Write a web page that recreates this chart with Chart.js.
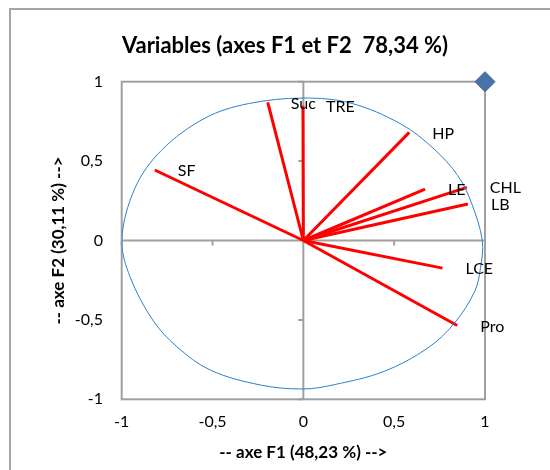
<!DOCTYPE html>
<html>
<head>
<meta charset="utf-8">
<script src="https://cdn.jsdelivr.net/npm/chart.js@4/dist/chart.umd.min.js"></script>
<style>
  html, body { margin: 0; padding: 0; background: #fff; }
  #wrap { width: 550px; height: 470px; position: relative; }
</style>
</head>
<body>
<div id="wrap"><canvas id="c" width="550" height="470"></canvas></div>
<script>
// ---- data ----
const chartTitle = 'Variables (axes F1 et F2  78,34 %)';
const xAxisTitle = '-- axe F1 (48,23 %) -->';
const yAxisTitle = '-- axe F2 (30,11 %) -->';
const varNames = ['SF', 'Suc', 'TRE', 'HP', 'LE', 'CHL', 'LB', 'LCE', 'Pro'];
const varF1 = [-0.818, -0.196, -0.002, 0.583, 0.670, 0.900, 0.906, 0.766, 0.847];
const varF2 = [0.444, 0.870, 0.849, 0.681, 0.323, 0.335, 0.230, -0.174, -0.535];
const xTickLabels = ['-1', '-0,5', '0', '0,5', '1'];
const yTickLabels = ['-1', '-0,5', '0', '0,5', '1'];
// correlation circle, points (counter-clockwise from the right).
// first and last points only overlap the loop so the curve closes smoothly; their segments are hidden.
const circleX = [0.975, 0.985, 0.924, 0.850, 0.720, 0.538, 0.261, 0.000, -0.302, -0.541, -0.781, -0.928, -1.000, -0.954, -0.829, -0.696, -0.512, -0.236, 0.000, 0.169, 0.445, 0.685, 0.832, 0.943, 0.975, 0.985, 0.924];
const circleY = [-0.174, 0.000, 0.241, 0.409, 0.576, 0.733, 0.865, 0.897, 0.862, 0.771, 0.568, 0.327, 0.000, -0.229, -0.501, -0.669, -0.816, -0.910, -0.935, -0.908, -0.824, -0.677, -0.520, -0.321, -0.174, 0.000, 0.241];
const markerX = [1];
const markerY = [1];

Chart.defaults.font.family = 'Lato, "Open Sans", sans-serif';
Chart.defaults.color = '#000';

const circleColor = '#2F80C6';
const datasets = [];
datasets.push({
  label: 'circle',
  data: circleX.map((v, i) => ({x: v, y: circleY[i]})),
  showLine: true,
  borderColor: circleColor,
  borderWidth: 1,
  pointRadius: 0,
  tension: 0.35,
  fill: false,
  segment: {
    borderColor: c => (c.p0DataIndex === 0 || c.p0DataIndex === circleX.length - 2) ? 'rgba(0,0,0,0)' : circleColor
  }
});
varNames.forEach((n, i) => {
  datasets.push({
    label: n,
    data: [{x: 0, y: 0}, {x: varF1[i], y: varF2[i]}],
    showLine: true,
    borderColor: '#FF0000',
    borderWidth: 3,
    pointRadius: 0,
    tension: 0
  });
});
datasets.push({
  label: 'marker',
  data: markerX.map((v, i) => ({x: v, y: markerY[i]})),
  pointStyle: 'rectRot',
  pointRadius: 10,
  backgroundColor: '#4A72AA',
  borderColor: '#3F659C',
  borderWidth: 1,
  clip: false
});

const decor = {
  id: 'decor',
  beforeDraw(chart) {
    const ctx = chart.ctx;
    ctx.save();
    ctx.fillStyle = '#fff';
    ctx.fillRect(0, 0, chart.width, chart.height);
    ctx.strokeStyle = '#A6A6A6';
    ctx.lineWidth = 2;
    ctx.strokeRect(10, 9, chart.width + 20, chart.height + 20);
    ctx.fillStyle = '#000';
    ctx.font = 'bold 22px Lato, sans-serif';
    ctx.textAlign = 'center';
    ctx.textBaseline = 'middle';
    ctx.fillText(chartTitle, 285, 46);
    ctx.restore();
  },
  beforeDatasetsDraw(chart) {
    const {ctx, chartArea: a, scales: {x, y}} = chart;
    ctx.save();
    ctx.strokeStyle = '#A0A0A0';
    ctx.lineWidth = 2;
    ctx.strokeRect(a.left, a.top, a.right - a.left, a.bottom - a.top);
    const x0 = x.getPixelForValue(0), y0 = y.getPixelForValue(0);
    ctx.beginPath();
    ctx.moveTo(a.left, y0); ctx.lineTo(a.right, y0);
    ctx.moveTo(x0, a.top); ctx.lineTo(x0, a.bottom);
    x.ticks.forEach(t => { const p = x.getPixelForValue(t.value); ctx.moveTo(p, y0); ctx.lineTo(p, y0 + 5); });
    y.ticks.forEach(t => { const p = y.getPixelForValue(t.value); ctx.moveTo(x0, p); ctx.lineTo(x0 - 5, p); });
    ctx.stroke();
    ctx.restore();
  },
  afterDatasetsDraw(chart) {
    const {ctx, scales: {x, y}} = chart;
    ctx.save();
    ctx.fillStyle = '#000';
    ctx.font = '16px Lato, sans-serif';
    ctx.textAlign = 'left';
    ctx.textBaseline = 'middle';
    varNames.forEach((n, i) => {
      ctx.fillText(n, x.getPixelForValue(varF1[i]) + 23, y.getPixelForValue(varF2[i]) + 1);
    });
    ctx.restore();
  }
};

new Chart(document.getElementById('c'), {
  type: 'scatter',
  data: { datasets },
  plugins: [decor],
  options: {
    responsive: false,
    animation: false,
    layout: { padding: { top: 81.7, right: 65, bottom: 0, left: 0 } },
    plugins: { legend: { display: false }, tooltip: { enabled: false }, title: { display: false } },
    scales: {
      x: {
        type: 'linear', min: -1, max: 1,
        ticks: { stepSize: 0.5, padding: 12.5, font: { size: 16 }, color: '#000',
          callback: (v, i) => xTickLabels[i] },
        grid: { display: false, drawTicks: false },
        border: { display: false },
        title: { display: true, text: xAxisTitle, font: { size: 17, weight: 'bold' }, color: '#000', padding: { top: 0, bottom: 7 } },
        afterFit(s) { s.height = 70.7; }
      },
      y: {
        type: 'linear', min: -1, max: 1,
        ticks: { stepSize: 0.5, padding: 18.7, font: { size: 16 }, color: '#000',
          callback: (v, i) => yTickLabels[i] },
        grid: { display: false, drawTicks: false },
        border: { display: false },
        title: { display: true, text: yAxisTitle, font: { size: 17, weight: 'bold' }, color: '#000', padding: { top: 48, bottom: 0 } },
        afterFit(s) { s.width = 121.7; }
      }
    }
  }
});
</script>
</body>
</html>
